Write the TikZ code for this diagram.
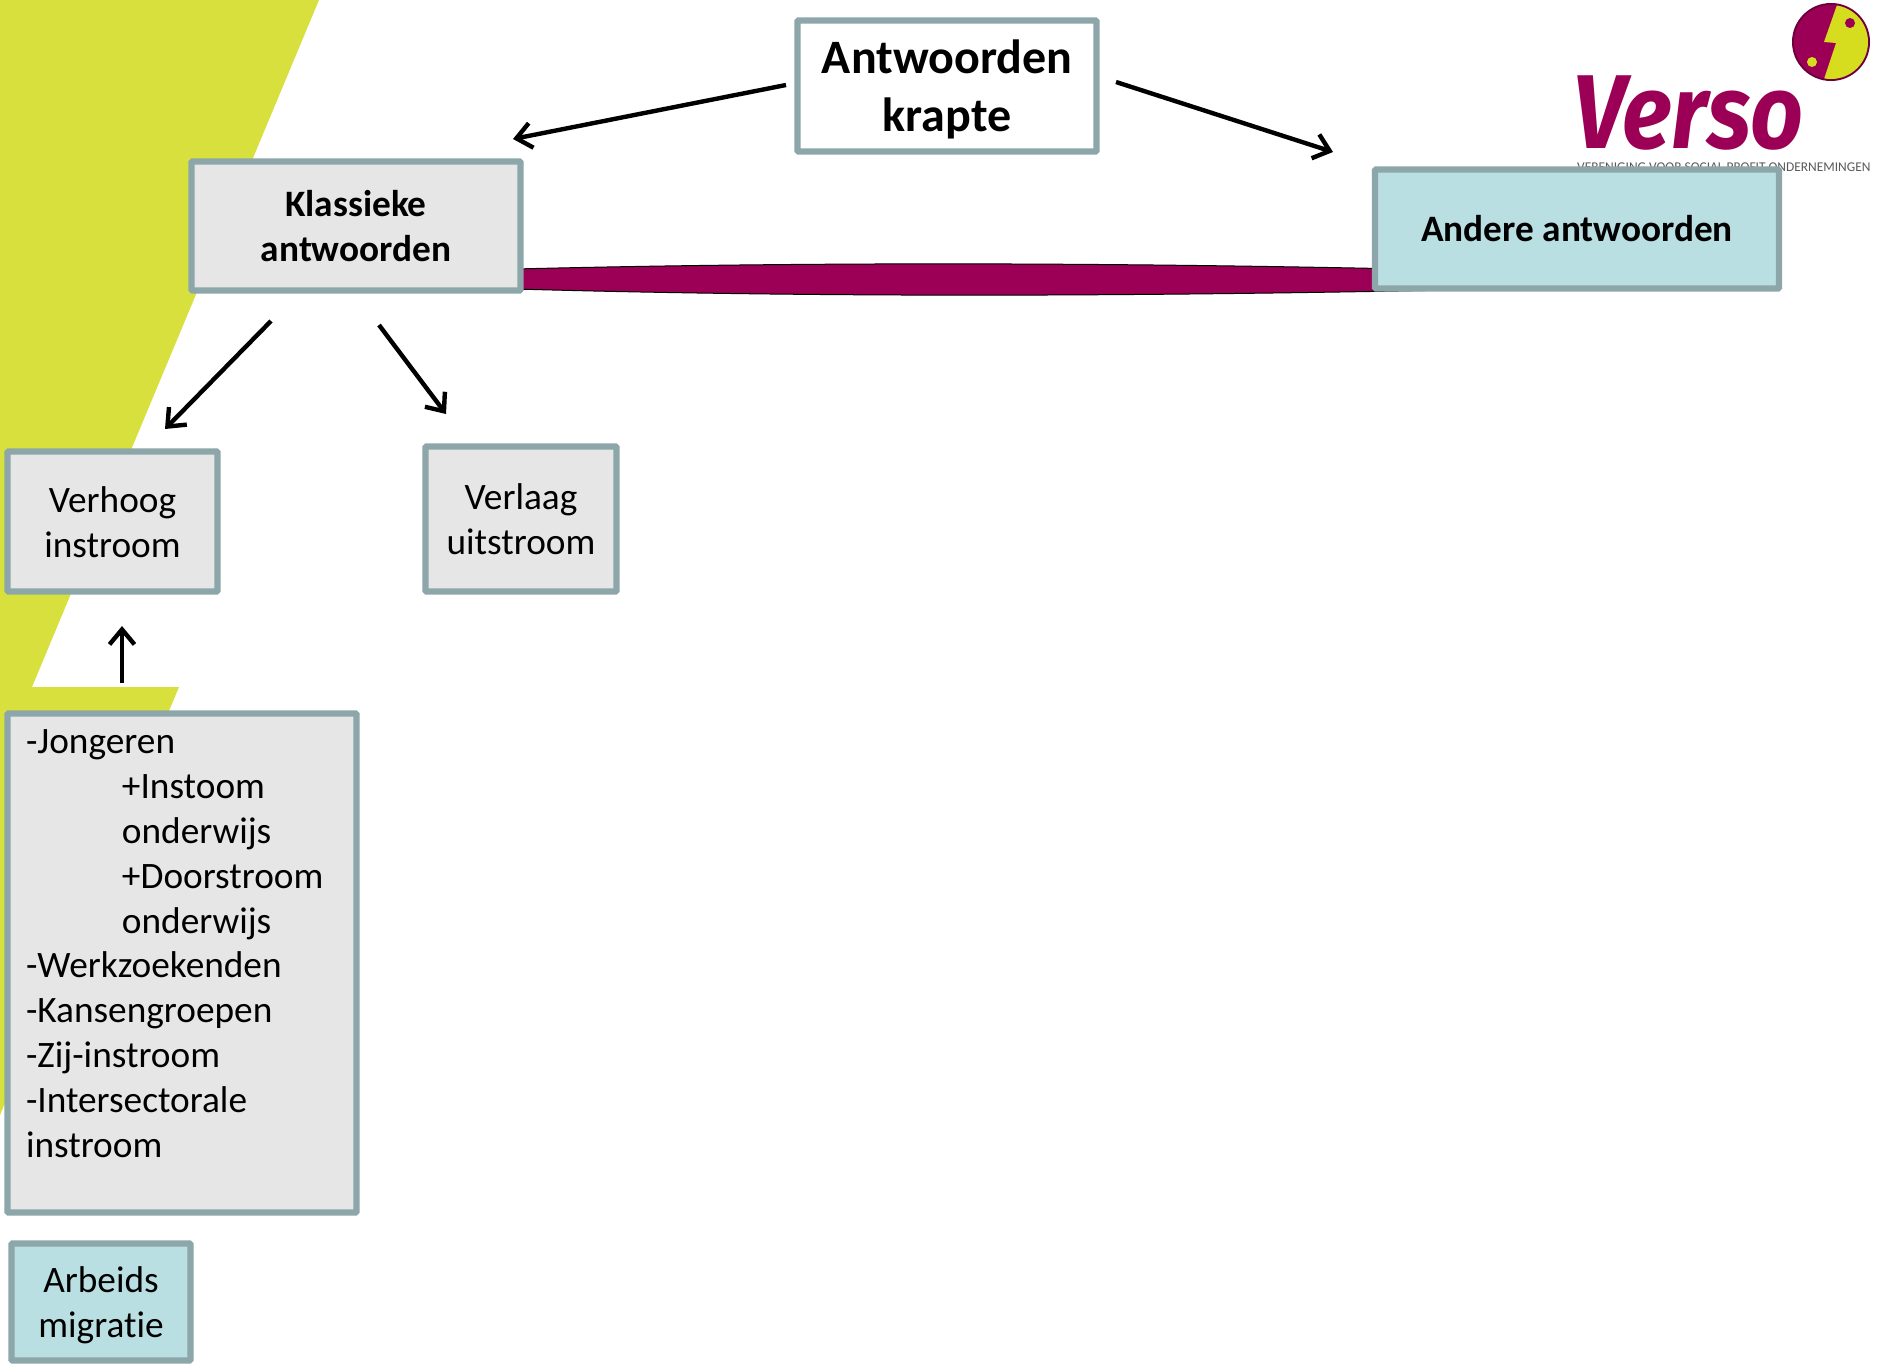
\documentclass[tikz,border=0pt]{standalone}
\usepackage{fontspec}
\setmainfont[RawFeature={-liga;-clig;-dlig}]{Carlito}
\newfontfamily\logofont{Fira Sans}
\definecolor{lime}{HTML}{D8E03E}
\definecolor{logolime}{HTML}{D6DC1E}
\definecolor{maroon}{HTML}{9C0056}
\definecolor{edgegrey}{HTML}{8CA6A9}
\definecolor{boxgrey}{HTML}{E6E6E6}
\definecolor{boxteal}{HTML}{B9DFE2}
\usetikzlibrary{arrows.meta}
\newcommand{\lowerby}[2]{\raisebox{-#1pt}[\height][\depth]{#2}}
\tikzset{
  x=1pt,y=-1pt,
  basebox/.style={draw=edgegrey,line width=6.2pt,rounded corners=1pt,inner sep=0pt,outer sep=0pt,align=center,text=black},
  greybox/.style={basebox,fill=boxgrey},
  tealbox/.style={basebox,fill=boxteal},
  whitebox/.style={basebox,fill=white},
  bodytext/.style={font=\fontsize{37.3}{45}\selectfont},
  boldtext/.style={font=\fontsize{37.3}{45}\selectfont\bfseries},
  conn/.style={line width=4.4pt,black,-{Straight Barb[length=15pt,width=25pt,line width=4.4pt]}},
}
\begin{document}
\begin{tikzpicture}
\useasboundingbox (0,0) rectangle (1883,1369);
\fill[white] (0,0) rectangle (1883,1369);
% background wedge
\fill[lime] (0,0) -- (319,0) -- (32,687) -- (179,687) -- (0,1115) -- cycle;
% logo
\fill[maroon!70!black] (1831,42) circle (39);
\begin{scope}
\clip (1831,42) circle (37);
\fill[maroon] (1790,0) rectangle (1872,85);
\fill[logolime] (1838,2) -- (1824,42) -- (1836,43) -- (1823,82) -- (1873,82) -- (1873,2) -- cycle;
\end{scope}
\fill[maroon] (1850,23) circle (5);
\fill[logolime] (1812,62) circle (5);
\node[anchor=base west,inner sep=0pt,text=maroon,font=\fontsize{105}{105}\selectfont\logofont\bfseries\itshape] (verso) at (1573,148) {\scalebox{.88}[1]{Verso}};
\node[anchor=base west,inner sep=0pt,text=black!65,font=\fontsize{13.4}{14}\selectfont] (versosub) at (1577,171) {VERENIGING VOOR SOCIAL PROFIT ONDERNEMINGEN};
% band
\draw[fill=maroon,draw=black,line width=1pt] (515,269) .. controls (800,262) and (1100,262) .. (1450,270) -- (1450,290) .. controls (1100,297) and (800,297) .. (515,289) -- cycle;
% boxes
\node[whitebox,font=\fontsize{48}{58}\selectfont\bfseries,minimum width=299,minimum height=131] (top) at (947,86) {\lowerby{3}{Antwoorden}\\\lowerby{3}{krapte}};
\node[greybox,boldtext,minimum width=329,minimum height=129] (klas) at (356,226) {Klassieke\\antwoorden};
\node[tealbox,boldtext,minimum width=404,minimum height=119] (ander) at (1577,229) {Andere antwoorden};
\node[greybox,bodytext,minimum width=210,minimum height=140] (hoog) at (112.5,521.5) {\lowerby{1}{Verhoog}\\\lowerby{1}{instroom}};
\node[greybox,bodytext,minimum width=191,minimum height=145] (laag) at (521,519) {Verlaag\\uitstroom};
\node[greybox,bodytext,align=left,minimum width=349,minimum height=499,text width=312] (lijst) at (182,963) {%
\lowerby{3.6}{-Jongeren}\\
\hspace*{96pt}\lowerby{3.6}{+Instoom}\\
\hspace*{96pt}\lowerby{3.6}{onderwijs}\\
\hspace*{96pt}\lowerby{3.6}{+Doorstroom}\\
\hspace*{96pt}\lowerby{3.6}{onderwijs}\\
\lowerby{3}{-Werkzoekenden}\\
\lowerby{3}{-Kansengroepen}\\
\lowerby{3}{-Zij-instroom}\\
\lowerby{3}{-Intersectorale}\\
\lowerby{3}{instroom}\\
\mbox{}};
\node[tealbox,bodytext,minimum width=179,minimum height=117] (arb) at (101,1302) {\lowerby{3}{Arbeids}\\\lowerby{3}{migratie}};
% connector ends
\coordinate (a1) at (786,85);
\coordinate (a2) at (513,139);
\coordinate (b1) at (1116,82);
\coordinate (b2) at (1333,152);
\coordinate (c1) at (271,321);
\coordinate (c2) at (165,429);
\coordinate (d1) at (379,325);
\coordinate (d2) at (446,414);
\coordinate (e1) at (122,683);
\coordinate (e2) at (122,626);
\draw[conn] (a1) -- (a2);
\draw[conn] (b1) -- (b2);
\draw[conn] (c1) -- (c2);
\draw[conn] (d1) -- (d2);
\draw[conn] (e1) -- (e2);
\end{tikzpicture}
\end{document}
